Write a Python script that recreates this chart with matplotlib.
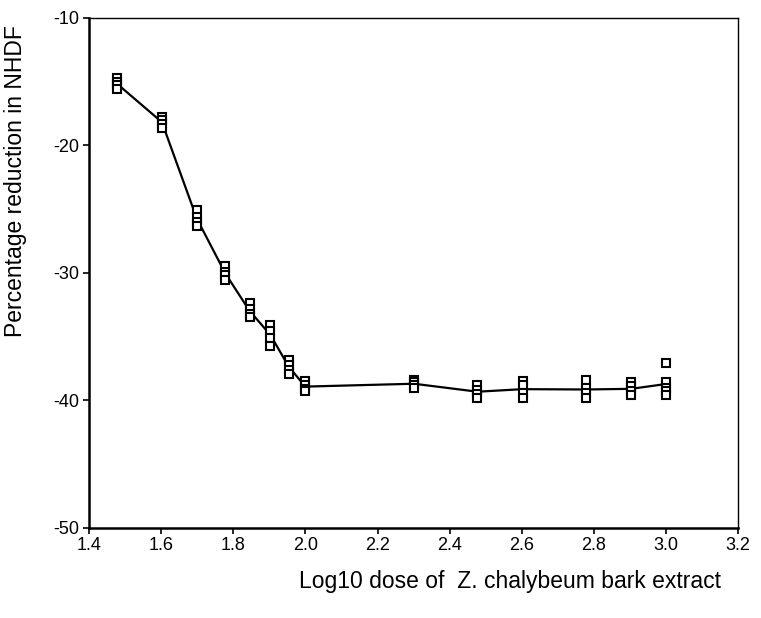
import numpy as np
import matplotlib.pyplot as plt

plt.rcParams['font.family'] = ['Liberation Sans', 'DejaVu Sans']
plt.rcParams['axes.unicode_minus'] = False

# log10 of dose, one entry per replicate group
doses = [1.477, 1.602, 1.699, 1.778, 1.845, 1.903, 1.954, 2.0,
         2.301, 2.477, 2.602, 2.778, 2.903, 3.0]

# replicate readings (% reduction) at each dose
replicates = [
    [-14.7, -15.0, -15.3, -15.6],
    [-17.8, -18.0, -18.3, -18.6],
    [-25.1, -25.6, -26.0, -26.3],
    [-29.5, -29.9, -30.2, -30.6],
    [-32.4, -32.8, -33.2, -33.5],
    [-34.1, -34.6, -35.1, -35.7],
    [-36.8, -37.2, -37.6, -37.9],
    [-38.5, -38.8, -39.1, -39.3],
    [-38.4, -38.6, -38.8, -39.0],
    [-38.8, -39.2, -39.5, -39.8],
    [-38.5, -38.8, -39.4, -39.8],
    [-38.4, -39.0, -39.4, -39.8],
    [-38.6, -38.9, -39.3, -39.6],
    [-37.1, -38.6, -39.0, -39.3, -39.6],
]

x_ticks = [1.4, 1.6, 1.8, 2.0, 2.2, 2.4, 2.6, 2.8, 3.0, 3.2]
y_ticks = [-50, -40, -30, -20, -10]

fig = plt.figure(figsize=(7.61, 6.18), dpi=100)
ax = fig.add_axes([0.117, 0.146, 0.853, 0.825])

means = [np.mean(r) for r in replicates]
ax.plot(doses, means, color='black', lw=1.6, zorder=2)

for d, reps in zip(doses, replicates):
    ax.plot([d] * len(reps), reps, linestyle='none', marker='s',
            markersize=5.2, markerfacecolor='white', markeredgecolor='black',
            markeredgewidth=1.5, zorder=3)

ax.set_xlim(1.4, 3.2)
ax.set_ylim(-50, -10)
ax.set_xticks(x_ticks)
ax.set_xticklabels([f'{t:.1f}' for t in x_ticks])
ax.set_yticks(y_ticks)
ax.tick_params(direction='out', length=4, width=1.2, labelsize=13, pad=3)

for side in ['left', 'bottom']:
    ax.spines[side].set_linewidth(1.8)
for side in ['top', 'right']:
    ax.spines[side].set_linewidth(1.0)

ax.set_ylabel('Percentage reduction in NHDF', fontsize=16.5)
ax.yaxis.set_label_coords(-0.095, 0.68)
ax.set_xlabel('Log10 dose of  Z. chalybeum bark extract', fontsize=16.5)
ax.xaxis.set_label_coords(0.648, -0.082)

plt.savefig('out.png', dpi=100)
